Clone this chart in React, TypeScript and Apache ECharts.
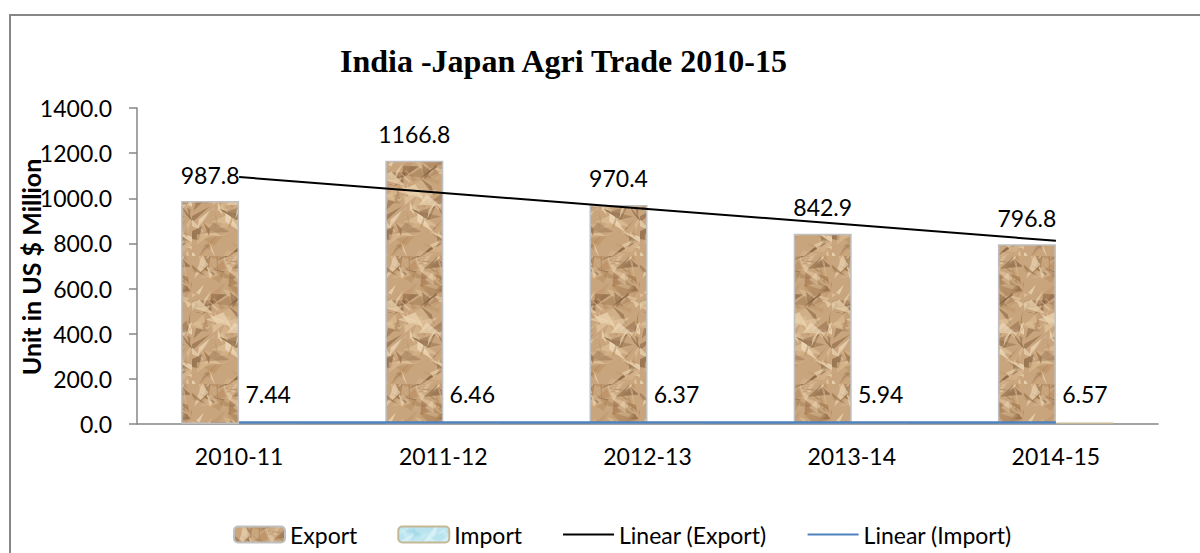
import React, { useEffect, useRef } from "react";
import * as echarts from "echarts";

const categories = ["2010-11", "2011-12", "2012-13", "2013-14", "2014-15"];
const exportValues = [987.8, 1166.8, 970.4, 842.9, 796.8];
const importValues = [7.44, 6.46, 6.37, 5.94, 6.57];
// trend lines
const exportTrend = [1094.1, 1023.5, 952.9, 882.4, 811.8];
const importTrend = [7.01, 6.78, 6.56, 6.33, 6.1];
const yTicks = { min: 0, max: 1400, interval: 200 };

const FONT = "Lato";

function makePaperTexture(base: string, shades: string[], w: number, h: number, n: number, seed: number): HTMLCanvasElement {
  const c = document.createElement("canvas");
  c.width = w;
  c.height = h;
  const ctx = c.getContext("2d")!;
  ctx.fillStyle = base;
  ctx.fillRect(0, 0, w, h);
  let s = seed;
  const next = () => {
    s = (s * 16807) % 2147483647;
    return s / 2147483647;
  };
  for (let i = 0; i < n; i++) {
    const x = next() * w;
    const y = next() * h;
    ctx.fillStyle = shades[Math.floor(next() * shades.length)];
    ctx.globalAlpha = 0.3 + next() * 0.45;
    ctx.beginPath();
    ctx.moveTo(x, y);
    ctx.lineTo(x + (next() - 0.3) * 26, y + (next() - 0.5) * 30);
    ctx.lineTo(x + (next() - 0.7) * 26, y + (next() - 0.5) * 30);
    ctx.closePath();
    ctx.fill();
  }
  ctx.globalAlpha = 1;
  return c;
}

export default function App() {
  const ref = useRef<HTMLDivElement>(null);
  useEffect(() => {
    document.body.style.margin = "0";
    const chart = echarts.init(ref.current!, null, { renderer: "svg" });
    const paper = makePaperTexture(
      "#C9A57D",
      ["#EAD3AF", "#DDBE95", "#B98F63", "#9A724B", "#7A5636", "#F0DCBC"],
      64,
      128,
      170,
      12345
    );
    const ice = makePaperTexture("#B9E4EF", ["#DFF4F8", "#9FD6E4", "#CDEDF4"], 40, 40, 30, 777);

    const labelStyle = { fontFamily: FONT, fontSize: 23, color: "#000" };

    chart.setOption({
      animation: false,
      backgroundColor: "#fff",
      textStyle: { fontFamily: FONT },
      title: {
        text: "India -Japan Agri Trade 2010-15",
        left: 340,
        top: 45,
        padding: 0,
        textStyle: {
          fontFamily: "Liberation Serif",
          fontWeight: "bold",
          fontSize: 32,
          color: "#000",
        },
      },
      graphic: [
        {
          type: "rect",
          shape: { x: 10, y: 15, width: 1220, height: 600 },
          style: { fill: "none", stroke: "#868686", lineWidth: 2 },
          silent: true,
        },
        {
          type: "text",
          x: 31,
          y: 267,
          rotation: Math.PI / 2,
          style: {
            text: "Unit in US $ Million",
            fontFamily: FONT,
            fontWeight: "bold",
            fontSize: 25,
            fill: "#000",
            align: "center",
            verticalAlign: "middle",
          },
          silent: true,
        },
      ],
      legend: {
        left: 228,
        top: 518,
        itemWidth: 51,
        itemHeight: 16,
        itemGap: 40,
        textStyle: { fontFamily: FONT, fontSize: 23, color: "#000" },
        data: [
          { name: "Export" },
          { name: "Import" },
          { name: "Linear (Export)", itemStyle: { opacity: 0 } },
          { name: "Linear (Import)", itemStyle: { opacity: 0 } },
        ],
      },
      grid: { left: 137, right: 42, top: 108, bottom: 129 },
      xAxis: {
        type: "category",
        data: categories,
        axisLine: { lineStyle: { color: "#868686", width: 1.5 } },
        axisTick: { length: 7, lineStyle: { color: "#868686", width: 1.5 } },
        axisLabel: { ...labelStyle, margin: 20 },
      },
      yAxis: {
        type: "value",
        min: yTicks.min,
        max: yTicks.max,
        interval: yTicks.interval,
        splitLine: { show: false },
        axisLine: { show: true, lineStyle: { color: "#868686", width: 1.5 } },
        axisTick: { show: true, length: 8, lineStyle: { color: "#868686", width: 1.5 } },
        axisLabel: { ...labelStyle, margin: 25, formatter: (v: number) => v.toFixed(1) },
      },
      series: [
        {
          name: "Export",
          type: "bar",
          data: exportValues,
          barWidth: 58,
          barGap: "0%",
          itemStyle: {
            color: { image: paper, repeat: "repeat" },
            borderColor: "#BFBFBF",
            borderWidth: 1.5,
          },
          label: { show: true, position: "top", distance: 15, ...labelStyle },
          z: 2,
        },
        {
          name: "Import",
          type: "bar",
          data: importValues,
          barWidth: 58,
          itemStyle: {
            color: { image: ice, repeat: "repeat" },
            borderColor: "#C4B896",
            borderWidth: 1.5,
          },
          label: { show: true, position: "top", distance: 17, ...labelStyle },
          z: 2,
        },
        {
          name: "Linear (Export)",
          type: "line",
          data: exportTrend,
          symbol: "none",
          lineStyle: { color: "#000", width: 2 },
          itemStyle: { color: "#000" },
          z: 5,
        },
        {
          name: "Linear (Import)",
          type: "line",
          data: importTrend,
          symbol: "none",
          lineStyle: { color: "#4F81BD", width: 2.5 },
          itemStyle: { color: "#4F81BD" },
          z: 5,
        },
      ],
    });
    return () => chart.dispose();
  }, []);
  return <div ref={ref} style={{ width: 1200, height: 553 }} />;
}
